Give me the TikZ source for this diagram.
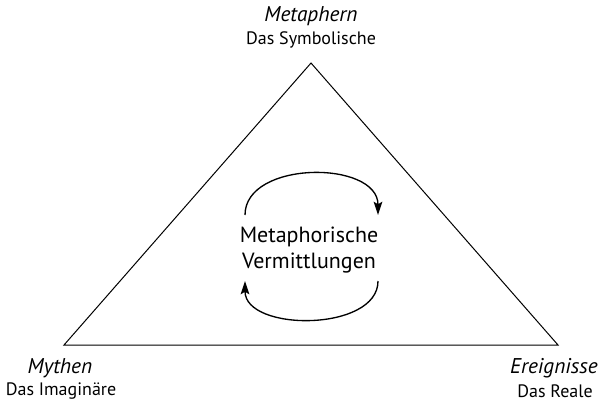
\documentclass[tikz,border=0pt]{standalone}
\usepackage{fontspec}
\setmainfont{PT Sans}
\usetikzlibrary{arrows.meta}
\tikzset{every picture/.style={line width=0.75pt}}
\tikzset{
  ecktitel/.style={font=\itshape\fontsize{16}{18}\selectfont, inner sep=0.75pt},
  eckzusatz/.style={font=\fontsize{13.5}{15}\selectfont, inner sep=0.75pt},
  kreislauf/.style={line width=1pt, -{Stealth[length=10pt,width=6.5pt,inset=2pt]}}
}

\begin{document}
\begin{tikzpicture}[x=0.75pt,y=0.75pt,yscale=-1,xscale=1]
\useasboundingbox (0,0) rectangle (605,401);

% corners of the triangle
\coordinate (top) at (311,63);
\coordinate (left) at (64,345);
\coordinate (right) at (558,345);
\draw (top) -- (right) -- (left) -- cycle;

% Text Node
\node [ecktitel] (metaphern) at (311,16) {Metaphern};
\node [eckzusatz] (symbolisch) at (311,40) {Das Symbolische};
% Text Node
\node [ecktitel] (mythen) at (60,368) {Mythen};
\node [eckzusatz] (imaginaer) at (61,391) {Das Imaginäre};
% Text Node
\node [ecktitel] (ereignisse) at (554,368) {Ereignisse};
\node [eckzusatz] (reale) at (555,391) {Das Reale};
% Text Node
\node [font=\fontsize{16.5}{20}\selectfont, align=center] (mitte) at (309,250) {Metaphorische\\Vermittlungen};

% circulating arrows
\coordinate (a1) at (245,215);
\coordinate (a2) at (378,215);
\coordinate (b1) at (378,281);
\coordinate (b2) at (245,281);
\draw [kreislauf] (a1) .. controls (245,160) and (378,160) .. (a2);
\draw [kreislauf] (b1) .. controls (378,332) and (245,332) .. (b2);
\end{tikzpicture}
\end{document}
